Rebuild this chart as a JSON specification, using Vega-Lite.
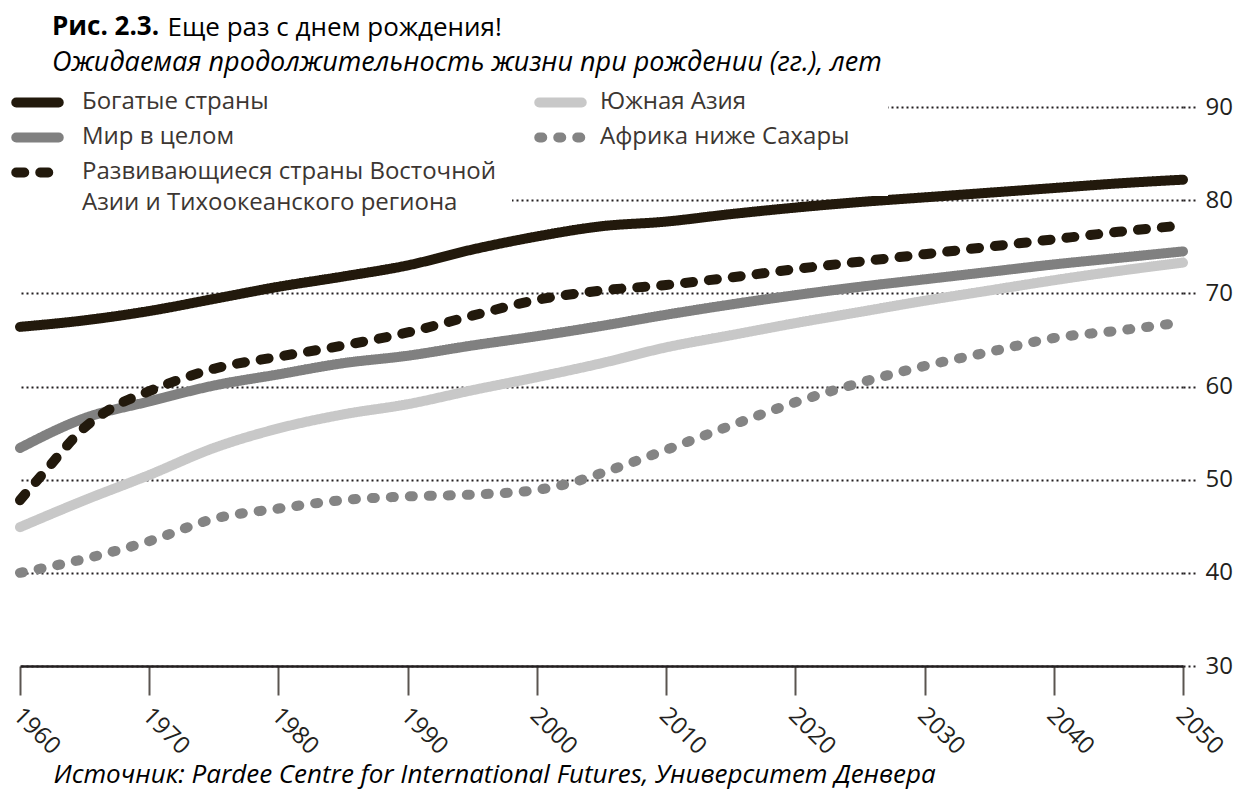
{
  "$schema": "https://vega.github.io/schema/vega-lite/v6.json",
  "width": 1163,
  "height": 559,
  "autosize": {"type": "none"},
  "padding": {"left": 20, "top": 107, "right": 55, "bottom": 123},
  "background": "white",
  "config": {"font": "Open Sans", "view": {"stroke": null}},
  "title": {
    "text": "Рис. 2.3.",
    "subtitle": "Ожидаемая продолжительность жизни при рождении (гг.), лет",
    "anchor": "start",
    "frame": "group",
    "dx": 32,
    "offset": -62,
    "fontSize": 26,
    "fontWeight": "bold",
    "color": "#000000",
    "subtitleFontSize": 27,
    "subtitleFontStyle": "italic",
    "subtitleColor": "#000000",
    "subtitlePadding": 10
  },
  "data": {
    "values": [
      {"year": 1960, "region": "Богатые страны", "value": 66.4},
      {"year": 1965, "region": "Богатые страны", "value": 67.1},
      {"year": 1970, "region": "Богатые страны", "value": 68.1},
      {"year": 1975, "region": "Богатые страны", "value": 69.4},
      {"year": 1980, "region": "Богатые страны", "value": 70.7},
      {"year": 1985, "region": "Богатые страны", "value": 71.8},
      {"year": 1990, "region": "Богатые страны", "value": 73.0},
      {"year": 1995, "region": "Богатые страны", "value": 74.7},
      {"year": 2000, "region": "Богатые страны", "value": 76.1},
      {"year": 2005, "region": "Богатые страны", "value": 77.2},
      {"year": 2010, "region": "Богатые страны", "value": 77.7},
      {"year": 2015, "region": "Богатые страны", "value": 78.5},
      {"year": 2020, "region": "Богатые страны", "value": 79.2},
      {"year": 2025, "region": "Богатые страны", "value": 79.8},
      {"year": 2030, "region": "Богатые страны", "value": 80.3},
      {"year": 2035, "region": "Богатые страны", "value": 80.8},
      {"year": 2040, "region": "Богатые страны", "value": 81.3},
      {"year": 2045, "region": "Богатые страны", "value": 81.8},
      {"year": 2050, "region": "Богатые страны", "value": 82.2},
      {"year": 1960, "region": "Мир в целом", "value": 53.4},
      {"year": 1965, "region": "Мир в целом", "value": 56.6},
      {"year": 1970, "region": "Мир в целом", "value": 58.4},
      {"year": 1975, "region": "Мир в целом", "value": 60.1},
      {"year": 1980, "region": "Мир в целом", "value": 61.3},
      {"year": 1985, "region": "Мир в целом", "value": 62.5},
      {"year": 1990, "region": "Мир в целом", "value": 63.3},
      {"year": 1995, "region": "Мир в целом", "value": 64.4},
      {"year": 2000, "region": "Мир в целом", "value": 65.4},
      {"year": 2005, "region": "Мир в целом", "value": 66.5},
      {"year": 2010, "region": "Мир в целом", "value": 67.7},
      {"year": 2015, "region": "Мир в целом", "value": 68.8},
      {"year": 2020, "region": "Мир в целом", "value": 69.8},
      {"year": 2025, "region": "Мир в целом", "value": 70.7},
      {"year": 2030, "region": "Мир в целом", "value": 71.5},
      {"year": 2035, "region": "Мир в целом", "value": 72.3},
      {"year": 2040, "region": "Мир в целом", "value": 73.1},
      {"year": 2045, "region": "Мир в целом", "value": 73.8},
      {"year": 2050, "region": "Мир в целом", "value": 74.5},
      {"year": 1960, "region": "Развивающиеся страны Восточной Азии и Тихоокеанского региона", "value": 47.8},
      {"year": 1962, "region": "Развивающиеся страны Восточной Азии и Тихоокеанского региона", "value": 51.0},
      {"year": 1965, "region": "Развивающиеся страны Восточной Азии и Тихоокеанского региона", "value": 55.6},
      {"year": 1967, "region": "Развивающиеся страны Восточной Азии и Тихоокеанского региона", "value": 57.6},
      {"year": 1970, "region": "Развивающиеся страны Восточной Азии и Тихоокеанского региона", "value": 59.5},
      {"year": 1975, "region": "Развивающиеся страны Восточной Азии и Тихоокеанского региона", "value": 61.9},
      {"year": 1980, "region": "Развивающиеся страны Восточной Азии и Тихоокеанского региона", "value": 63.2},
      {"year": 1985, "region": "Развивающиеся страны Восточной Азии и Тихоокеанского региона", "value": 64.4},
      {"year": 1990, "region": "Развивающиеся страны Восточной Азии и Тихоокеанского региона", "value": 65.8},
      {"year": 1995, "region": "Развивающиеся страны Восточной Азии и Тихоокеанского региона", "value": 67.6},
      {"year": 2000, "region": "Развивающиеся страны Восточной Азии и Тихоокеанского региона", "value": 69.3},
      {"year": 2005, "region": "Развивающиеся страны Восточной Азии и Тихоокеанского региона", "value": 70.3},
      {"year": 2010, "region": "Развивающиеся страны Восточной Азии и Тихоокеанского региона", "value": 70.9},
      {"year": 2015, "region": "Развивающиеся страны Восточной Азии и Тихоокеанского региона", "value": 71.7},
      {"year": 2020, "region": "Развивающиеся страны Восточной Азии и Тихоокеанского региона", "value": 72.6},
      {"year": 2025, "region": "Развивающиеся страны Восточной Азии и Тихоокеанского региона", "value": 73.4},
      {"year": 2030, "region": "Развивающиеся страны Восточной Азии и Тихоокеанского региона", "value": 74.2},
      {"year": 2035, "region": "Развивающиеся страны Восточной Азии и Тихоокеанского региона", "value": 75.0},
      {"year": 2040, "region": "Развивающиеся страны Восточной Азии и Тихоокеанского региона", "value": 75.8},
      {"year": 2045, "region": "Развивающиеся страны Восточной Азии и Тихоокеанского региона", "value": 76.6},
      {"year": 2050, "region": "Развивающиеся страны Восточной Азии и Тихоокеанского региона", "value": 77.3},
      {"year": 1960, "region": "Южная Азия", "value": 44.9},
      {"year": 1965, "region": "Южная Азия", "value": 47.8},
      {"year": 1970, "region": "Южная Азия", "value": 50.5},
      {"year": 1975, "region": "Южная Азия", "value": 53.4},
      {"year": 1980, "region": "Южная Азия", "value": 55.5},
      {"year": 1985, "region": "Южная Азия", "value": 57.0},
      {"year": 1990, "region": "Южная Азия", "value": 58.1},
      {"year": 1995, "region": "Южная Азия", "value": 59.6},
      {"year": 2000, "region": "Южная Азия", "value": 61.0},
      {"year": 2005, "region": "Южная Азия", "value": 62.5},
      {"year": 2010, "region": "Южная Азия", "value": 64.2},
      {"year": 2015, "region": "Южная Азия", "value": 65.5},
      {"year": 2020, "region": "Южная Азия", "value": 66.8},
      {"year": 2025, "region": "Южная Азия", "value": 68.0},
      {"year": 2030, "region": "Южная Азия", "value": 69.2},
      {"year": 2035, "region": "Южная Азия", "value": 70.3},
      {"year": 2040, "region": "Южная Азия", "value": 71.4},
      {"year": 2045, "region": "Южная Азия", "value": 72.4},
      {"year": 2050, "region": "Южная Азия", "value": 73.3},
      {"year": 1960, "region": "Африка ниже Сахары", "value": 40.0},
      {"year": 1965, "region": "Африка ниже Сахары", "value": 41.5},
      {"year": 1970, "region": "Африка ниже Сахары", "value": 43.4},
      {"year": 1975, "region": "Африка ниже Сахары", "value": 45.8},
      {"year": 1980, "region": "Африка ниже Сахары", "value": 46.9},
      {"year": 1985, "region": "Африка ниже Сахары", "value": 47.8},
      {"year": 1990, "region": "Африка ниже Сахары", "value": 48.2},
      {"year": 1995, "region": "Африка ниже Сахары", "value": 48.4},
      {"year": 2000, "region": "Африка ниже Сахары", "value": 48.9},
      {"year": 2003, "region": "Африка ниже Сахары", "value": 49.8},
      {"year": 2005, "region": "Африка ниже Сахары", "value": 50.7},
      {"year": 2010, "region": "Африка ниже Сахары", "value": 53.2},
      {"year": 2015, "region": "Африка ниже Сахары", "value": 55.8},
      {"year": 2020, "region": "Африка ниже Сахары", "value": 58.3},
      {"year": 2025, "region": "Африка ниже Сахары", "value": 60.4},
      {"year": 2030, "region": "Африка ниже Сахары", "value": 62.2},
      {"year": 2035, "region": "Африка ниже Сахары", "value": 63.7},
      {"year": 2040, "region": "Африка ниже Сахары", "value": 65.2},
      {"year": 2045, "region": "Африка ниже Сахары", "value": 66.0},
      {"year": 2050, "region": "Африка ниже Сахары", "value": 66.9}
    ]
  },
  "encoding": {
    "x": {
      "field": "year",
      "type": "quantitative",
      "scale": {"domain": [1960, 2050], "nice": false, "zero": false},
      "axis": {
        "values": [1960, 1970, 1980, 1990, 2000, 2010, 2020, 2030, 2040, 2050],
        "format": "d",
        "grid": false,
        "domainColor": "#231f20",
        "domainWidth": 2.5,
        "tickColor": "#5a5550",
        "tickWidth": 2,
        "tickSize": 29,
        "labelAngle": 45,
        "labelAlign": "left",
        "labelBaseline": "top",
        "labelPadding": 8,
        "labelOffset": 5,
        "labelFontSize": 24,
        "labelColor": "#231f20",
        "labelFlush": false,
        "labelOverlap": false,
        "title": "Источник: Pardee Centre for International Futures, Университет Денвера",
        "titleFontSize": 26,
        "titleFontStyle": "italic",
        "titleFontWeight": "normal",
        "titleColor": "#000000",
        "titleAnchor": "start",
        "titleAlign": "left",
        "titleBaseline": "alphabetic",
        "titleX": 33,
        "titleY": 116
      }
    },
    "y": {
      "field": "value",
      "type": "quantitative",
      "scale": {"domain": [30, 90], "nice": false, "zero": false},
      "axis": {
        "orient": "right",
        "values": [30, 40, 50, 60, 70, 80, 90],
        "grid": true,
        "gridDash": [2, 3],
        "gridColor": "#231f20",
        "gridWidth": 2,
        "domain": false,
        "tickSize": 14,
        "tickDash": [2, 3],
        "tickColor": "#231f20",
        "tickWidth": 2,
        "labelPadding": 8,
        "labelFontSize": 24,
        "labelColor": "#231f20",
        "title": "Еще раз с днем рождения!",
        "titleAngle": 0,
        "titleAlign": "left",
        "titleBaseline": "alphabetic",
        "titleX": -1016,
        "titleY": -72,
        "titleFontSize": 26,
        "titleFontWeight": "normal",
        "titleColor": "#000000"
      }
    }
  },
  "layer": [
    {
      "transform": [{"filter": {"field": "region", "oneOf": ["Богатые страны", "Мир в целом", "Развивающиеся страны Восточной Азии и Тихоокеанского региона"]}}],
      "mark": {"type": "line", "strokeWidth": 10, "strokeCap": "round", "strokeJoin": "round", "interpolate": "monotone"},
      "encoding": {
        "color": {
          "field": "region",
          "type": "nominal",
          "scale": {"domain": ["Богатые страны", "Мир в целом", "Развивающиеся страны Восточной Азии и Тихоокеанского региона"], "range": ["#22190c", "#808080", "#22190c"]},
          "legend": {
            "orient": "none",
            "legendX": -11,
            "legendY": -33,
            "title": null,
            "direction": "vertical",
            "symbolType": "M-2.5,0H2.5",
            "symbolSize": 289,
            "symbolStrokeWidth": 10,
            "labelFontSize": 24,
            "labelColor": "#3c3632",
            "labelOffset": 31,
            "labelLimit": 0,
            "labelBaseline": "top",
            "rowPadding": -6,
            "padding": 15,
            "fillColor": "white",
            "labelExpr": "datum.label == 'Развивающиеся страны Восточной Азии и Тихоокеанского региона' ? ['Развивающиеся страны Восточной', 'Азии и Тихоокеанского региона'] : datum.label",
            "encode": {
              "symbols": {"update": {"strokeCap": {"value": "round"}}},
              "labels": {"update": {"dy": {"value": -13}, "lineHeight": {"value": 31}}}
            }
          }
        },
        "strokeDash": {
          "field": "region",
          "type": "nominal",
          "scale": {"domain": ["Богатые страны", "Мир в целом", "Развивающиеся страны Восточной Азии и Тихоокеанского региона"], "range": [[1, 0], [1, 0], [8, 16]]}
        }
      }
    },
    {
      "transform": [{"filter": {"field": "region", "oneOf": ["Южная Азия", "Африка ниже Сахары"]}}],
      "mark": {"type": "line", "strokeWidth": 10, "strokeCap": "round", "strokeJoin": "round", "interpolate": "monotone"},
      "encoding": {
        "color": {
          "field": "region",
          "type": "nominal",
          "scale": {"domain": ["Южная Азия", "Африка ниже Сахары"], "range": ["#c8c8c8", "#848484"]},
          "legend": {
            "orient": "none",
            "legendX": 489,
            "legendY": -56,
            "title": null,
            "direction": "vertical",
            "symbolType": "M-2.5,0H2.5",
            "symbolSize": 289,
            "symbolStrokeWidth": 10,
            "labelFontSize": 24,
            "labelColor": "#3c3632",
            "labelOffset": 26,
            "labelLimit": 0,
            "labelBaseline": "top",
            "rowPadding": -6,
            "padding": 38,
            "fillColor": "white",
            "encode": {
              "symbols": {"update": {"strokeCap": {"value": "round"}}},
              "labels": {"update": {"dy": {"value": -13}}}
            }
          }
        },
        "strokeDash": {
          "field": "region",
          "type": "nominal",
          "scale": {"domain": ["Южная Азия", "Африка ниже Сахары"], "range": [[1, 0], [3, 16]]}
        }
      }
    }
  ],
  "resolve": {"scale": {"color": "independent", "strokeDash": "independent"}}
}
